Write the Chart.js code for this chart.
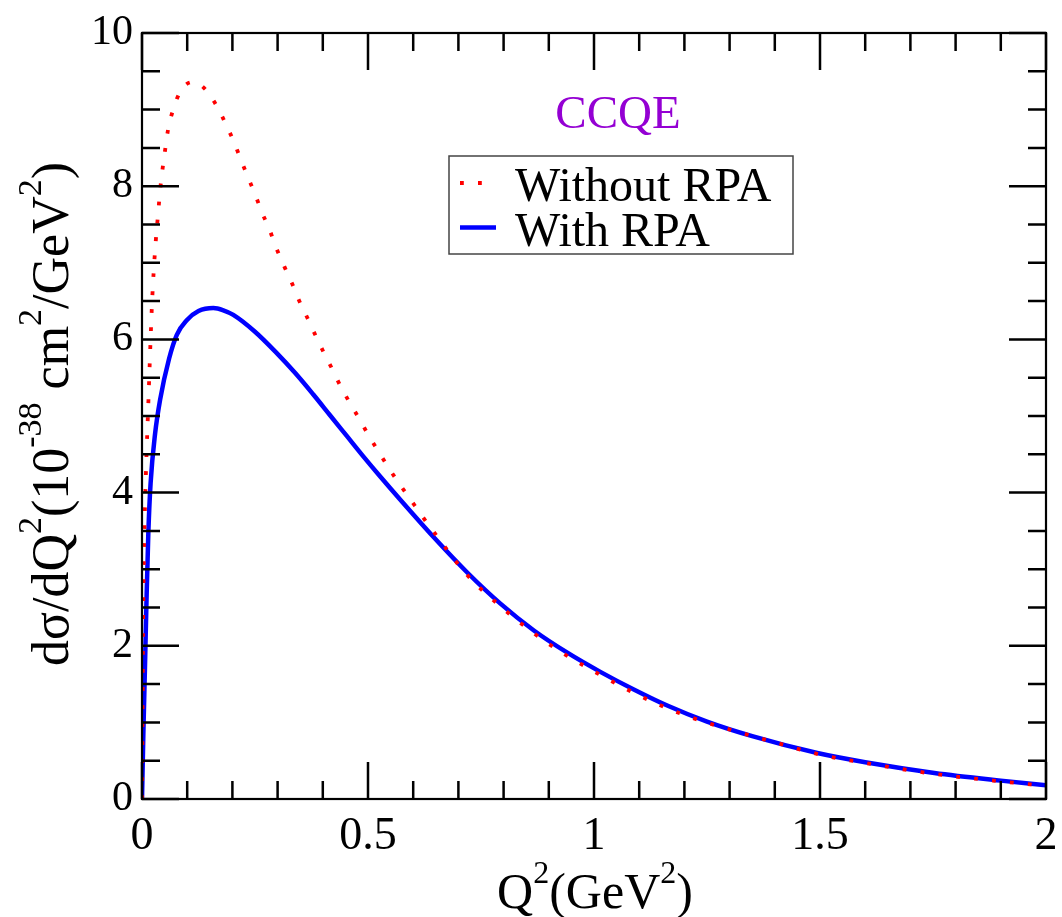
<!DOCTYPE html>
<html lang="en">
<head>
<meta charset="utf-8">
<title>CCQE dsigma/dQ2</title>
<script src="https://cdn.jsdelivr.net/npm/chart.js@4.4.1/dist/chart.umd.min.js"></script>
<style>
  html, body { margin: 0; padding: 0; background: #ffffff; }
  #wrap { width: 1062px; height: 917px; }
</style>
</head>
<body>
<div id="wrap"><canvas id="myChart" width="1062" height="917"></canvas></div>
<script>
"use strict";

/* ****************************************************************************
    DATA
**************************************************************************** */
// Q^2 (GeV^2) and d(sigma)/dQ^2 (1e-38 cm^2/GeV^2), without RPA
var q2Without = [0, 0.002, 0.004, 0.007, 0.010, 0.013, 0.016, 0.019, 0.022,
  0.026, 0.030, 0.035, 0.041, 0.046, 0.052, 0.058, 0.069, 0.084, 0.098, 0.114,
  0.130, 0.145, 0.168, 0.187, 0.204, 0.219, 0.235, 0.251, 0.266, 0.283, 0.298,
  0.315, 0.332, 0.348, 0.366, 0.384, 0.402, 0.421, 0.440, 0.460, 0.481, 0.502,
  0.524, 0.546, 0.570, 0.594, 0.619, 0.650, 0.720, 0.800, 0.870, 0.940, 0.981,
  1.014, 1.090, 1.160, 1.203, 1.270, 1.400, 1.500, 1.600, 1.750, 1.900, 2.000];
var sigmaWithout = [0, 2.0, 3.1, 3.9, 4.5, 5.0, 5.5, 6.0, 6.45,
  6.9, 7.25, 7.6, 8.0, 8.25, 8.51, 8.75, 9.0, 9.23, 9.33, 9.36,
  9.32, 9.23, 9.02, 8.79, 8.57, 8.34, 8.11, 7.88, 7.65, 7.42, 7.18,
  6.95, 6.73, 6.50, 6.28, 6.05, 5.83, 5.61, 5.38, 5.17, 4.96, 4.74,
  4.53, 4.32, 4.11, 3.91, 3.70, 3.45, 2.92, 2.48, 2.15, 1.87, 1.73,
  1.62, 1.38, 1.19, 1.09, 0.96, 0.74, 0.58, 0.47, 0.33, 0.23, 0.17];

// same quantity, with RPA
var q2With = [0, 0.003, 0.0066, 0.010, 0.014, 0.019, 0.029, 0.040, 0.060,
  0.077, 0.099, 0.125, 0.158, 0.180, 0.202, 0.250, 0.295, 0.339, 0.379, 0.416,
  0.453, 0.490, 0.527, 0.571, 0.645, 0.719, 0.793, 0.867, 0.941, 1.014, 1.088,
  1.162, 1.250, 1.350, 1.494, 1.600, 1.753, 1.900, 2.000];
var sigmaWith = [0, 0.86, 1.73, 2.60, 3.47, 4.12, 4.77, 5.21, 5.75,
  6.06, 6.25, 6.37, 6.41, 6.38, 6.32, 6.10, 5.84, 5.56, 5.28, 5.01,
  4.74, 4.47, 4.21, 3.91, 3.42, 2.96, 2.55, 2.20, 1.91, 1.66, 1.43,
  1.22, 1.01, 0.82, 0.60, 0.48, 0.34, 0.24, 0.18];

var seriesLabels = ["Without RPA", "With RPA"];
var plotTitle = "CCQE";

// axis ranges and tick steps
var xRange = [0, 2];
var yRange = [0, 10];
var xMajorStep = 0.5;
var xMinorStep = 0.1;
var yMajorStep = 2;
var yMinorStep = 0.5;

/* ****************************************************************************
    STYLE
**************************************************************************** */
var serif = "'Liberation Serif', 'Times New Roman', serif";

/**
 * Turn two parallel arrays into {x, y} points for Chart.js.
 */
function toPoints(xs, ys) {
  let pts = [];
  for (let i = 0; i < xs.length; i++) {
    pts.push({ x: xs[i], y: ys[i] });
  }
  return pts;
}

/**
 * Draw text made of [string, isSuperscript] pieces, centred on (0,0).
 */
function drawRichText(ctx, parts, size, supSize, supRaise) {
  let widths = [];
  let total = 0;
  for (let i = 0; i < parts.length; i++) {
    ctx.font = (parts[i][1] ? supSize : size) + "px " + serif;
    let w = ctx.measureText(parts[i][0]).width;
    widths.push(w);
    total += w;
  }
  let x = -total / 2;
  for (let i = 0; i < parts.length; i++) {
    ctx.font = (parts[i][1] ? supSize : size) + "px " + serif;
    ctx.fillText(parts[i][0], x, parts[i][1] ? -supRaise : 0);
    x += widths[i];
  }
}

/* ****************************************************************************
    PLUGINS
**************************************************************************** */

// frame round the plot with inward major and minor ticks on all four sides
var framePlugin = {
  id: "frame",
  afterDatasetsDraw(chart) {
    let ctx = chart.ctx;
    let a = chart.chartArea;
    let xs = chart.scales.x;
    let ys = chart.scales.y;
    ctx.save();
    ctx.strokeStyle = "#000000";
    ctx.lineWidth = 2.5;
    ctx.lineCap = "butt";
    ctx.beginPath();
    // x ticks, bottom and top
    let nx = Math.round((xRange[1] - xRange[0]) / xMinorStep);
    for (let i = 0; i <= nx; i++) {
      let v = xRange[0] + i * xMinorStep;
      let px = xs.getPixelForValue(v);
      let major = Math.abs(v / xMajorStep - Math.round(v / xMajorStep)) < 1e-6;
      let len = major ? 37 : 18;
      ctx.moveTo(px, a.bottom);
      ctx.lineTo(px, a.bottom - len);
      ctx.moveTo(px, a.top);
      ctx.lineTo(px, a.top + len);
    }
    // y ticks, left and right
    let ny = Math.round((yRange[1] - yRange[0]) / yMinorStep);
    for (let j = 0; j <= ny; j++) {
      let v = yRange[0] + j * yMinorStep;
      let py = ys.getPixelForValue(v);
      let major = Math.abs(v / yMajorStep - Math.round(v / yMajorStep)) < 1e-6;
      let len = major ? 37 : 18;
      ctx.moveTo(a.left, py);
      ctx.lineTo(a.left + len, py);
      ctx.moveTo(a.right, py);
      ctx.lineTo(a.right - len, py);
    }
    ctx.stroke();
    ctx.lineWidth = 2.2;
    ctx.strokeRect(a.left, a.top, a.right - a.left, a.bottom - a.top);
    ctx.restore();
  },
};

// CCQE label, legend box and both axis titles
var labelsPlugin = {
  id: "labels",
  afterDraw(chart) {
    let ctx = chart.ctx;
    let sets = chart.data.datasets;
    ctx.save();
    ctx.textBaseline = "alphabetic";

    // title inside the plot
    ctx.fillStyle = "#9400d3";
    ctx.font = "47px " + serif;
    ctx.textAlign = "center";
    ctx.fillText(plotTitle, 618, 128);

    // legend box
    ctx.strokeStyle = "#444444";
    ctx.lineWidth = 1.5;
    ctx.strokeRect(449, 156, 344, 98);
    ctx.textAlign = "left";
    ctx.fillStyle = "#000000";
    ctx.font = "48px " + serif;
    let rows = [[183, 201], [227.5, 246]];
    for (let i = 0; i < sets.length; i++) {
      ctx.save();
      ctx.strokeStyle = sets[i].borderColor;
      ctx.lineWidth = sets[i].borderWidth;
      ctx.setLineDash(sets[i].borderDash || []);
      ctx.beginPath();
      ctx.moveTo(460, rows[i][0]);
      ctx.lineTo(496, rows[i][0]);
      ctx.stroke();
      ctx.restore();
      ctx.fillText(sets[i].label, 515, rows[i][1]);
    }

    // x axis title
    ctx.fillStyle = "#000000";
    ctx.save();
    ctx.translate(595, 908);
    drawRichText(ctx, [["Q", 0], ["2", 1], ["(GeV", 0], ["2", 1], [")", 0]], 50, 32, 25);
    ctx.restore();

    // y axis title, rotated
    ctx.save();
    ctx.translate(68, 414);
    ctx.rotate(-Math.PI / 2);
    drawRichText(ctx, [["d\u03c3/dQ", 0], ["2", 1], ["(10", 0], ["-38", 1],
      [" cm", 0], ["2", 1], ["/GeV", 0], ["2", 1], [")", 0]], 52, 34, 27);
    ctx.restore();
    ctx.restore();
  },
};

/* ****************************************************************************
    CHART
**************************************************************************** */

/**
 * Build and draw the chart.
 */
function renderChart() {
  const data = {
    datasets: [
      {
        label: seriesLabels[0],
        data: toPoints(q2Without, sigmaWithout),
        borderColor: "#ff0000",
        borderWidth: 3.8,
        borderDash: [3.8, 14.2],
        borderCapStyle: "butt",
        pointRadius: 0,
        cubicInterpolationMode: "monotone",
        fill: false,
      },
      {
        label: seriesLabels[1],
        data: toPoints(q2With, sigmaWith),
        borderColor: "#0000ff",
        borderWidth: 4.5,
        pointRadius: 0,
        cubicInterpolationMode: "monotone",
        fill: false,
      },
    ],
  };

  const config = {
    type: "line",
    data: data,
    options: {
      responsive: false,
      animation: false,
      events: [],
      layout: { padding: { left: 0, top: 33, right: 16, bottom: 0 } },
      plugins: {
        legend: { display: false },
        tooltip: { enabled: false },
        title: { display: false },
      },
      scales: {
        x: {
          type: "linear",
          min: xRange[0],
          max: xRange[1],
          grid: { display: false, drawTicks: false },
          border: { display: false },
          ticks: {
            stepSize: xMajorStep,
            padding: 10,
            color: "#000000",
            maxRotation: 0,
            font: { family: serif, size: 46 },
            callback: (value) => String(value),
          },
          afterFit(scale) {
            scale.height = 118;
            scale.paddingLeft = 0;
            scale.paddingRight = 0;
          },
        },
        y: {
          type: "linear",
          min: yRange[0],
          max: yRange[1],
          grid: { display: false, drawTicks: false },
          border: { display: false },
          ticks: {
            stepSize: yMajorStep,
            padding: 9,
            color: "#000000",
            font: { family: serif, size: 42 },
            callback: (value) => String(value),
          },
          afterFit(scale) {
            scale.width = 142;
            scale.paddingTop = 0;
            scale.paddingBottom = 0;
          },
        },
      },
    },
    plugins: [framePlugin, labelsPlugin],
  };

  let canvasChart = document.getElementById("myChart");
  new Chart(canvasChart, config);
}

renderChart();
</script>
</body>
</html>
